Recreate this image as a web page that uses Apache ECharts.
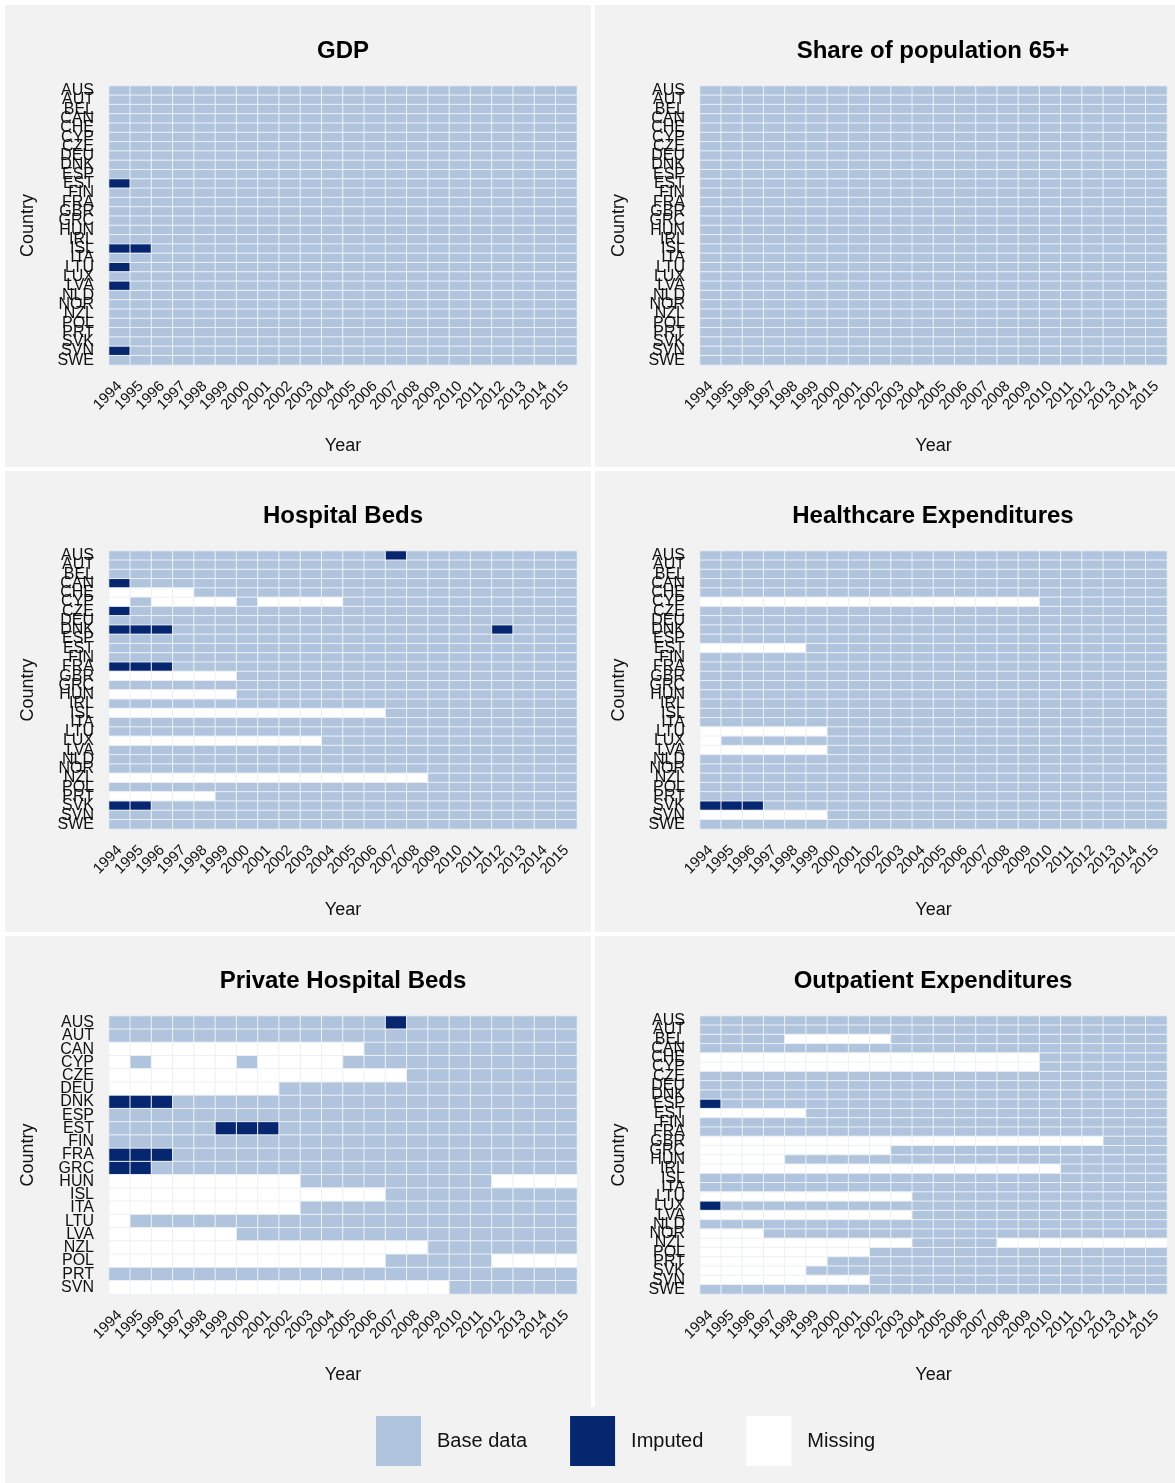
<!DOCTYPE html>
<html>
<head>
<meta charset="utf-8">
<title>Data availability by indicator</title>
<script src="https://cdn.jsdelivr.net/npm/echarts@6/dist/echarts.min.js"></script>
<style>
  html, body { margin: 0; padding: 0; background: #ffffff; }
  #chart { width: 1175px; height: 1483px; }
</style>
</head>
<body>
<div id="chart"></div>
<script>
const years = ['1994', '1995', '1996', '1997', '1998', '1999', '2000', '2001', '2002', '2003', '2004',
               '2005', '2006', '2007', '2008', '2009', '2010', '2011', '2012', '2013', '2014', '2015'];

const countries = ['AUS', 'AUT', 'BEL', 'CAN', 'CHE', 'CYP', 'CZE', 'DEU', 'DNK', 'ESP',
                   'EST', 'FIN', 'FRA', 'GBR', 'GRC', 'HUN', 'IRL', 'ISL', 'ITA', 'LTU',
                   'LUX', 'LVA', 'NLD', 'NOR', 'NZL', 'POL', 'PRT', 'SVK', 'SVN', 'SWE'];

const privateCountries = ['AUS', 'AUT', 'CAN', 'CYP', 'CZE', 'DEU', 'DNK', 'ESP', 'EST', 'FIN', 'FRA',
                          'GRC', 'HUN', 'ISL', 'ITA', 'LTU', 'LVA', 'NZL', 'POL', 'PRT', 'SVN'];

// one character per year: B = base data, I = imputed, M = missing
const gdpStatus = [
  'BBBBBBBBBBBBBBBBBBBBBB', // AUS
  'BBBBBBBBBBBBBBBBBBBBBB', // AUT
  'BBBBBBBBBBBBBBBBBBBBBB', // BEL
  'BBBBBBBBBBBBBBBBBBBBBB', // CAN
  'BBBBBBBBBBBBBBBBBBBBBB', // CHE
  'BBBBBBBBBBBBBBBBBBBBBB', // CYP
  'BBBBBBBBBBBBBBBBBBBBBB', // CZE
  'BBBBBBBBBBBBBBBBBBBBBB', // DEU
  'BBBBBBBBBBBBBBBBBBBBBB', // DNK
  'BBBBBBBBBBBBBBBBBBBBBB', // ESP
  'IBBBBBBBBBBBBBBBBBBBBB', // EST
  'BBBBBBBBBBBBBBBBBBBBBB', // FIN
  'BBBBBBBBBBBBBBBBBBBBBB', // FRA
  'BBBBBBBBBBBBBBBBBBBBBB', // GBR
  'BBBBBBBBBBBBBBBBBBBBBB', // GRC
  'BBBBBBBBBBBBBBBBBBBBBB', // HUN
  'BBBBBBBBBBBBBBBBBBBBBB', // IRL
  'IIBBBBBBBBBBBBBBBBBBBB', // ISL
  'BBBBBBBBBBBBBBBBBBBBBB', // ITA
  'IBBBBBBBBBBBBBBBBBBBBB', // LTU
  'BBBBBBBBBBBBBBBBBBBBBB', // LUX
  'IBBBBBBBBBBBBBBBBBBBBB', // LVA
  'BBBBBBBBBBBBBBBBBBBBBB', // NLD
  'BBBBBBBBBBBBBBBBBBBBBB', // NOR
  'BBBBBBBBBBBBBBBBBBBBBB', // NZL
  'BBBBBBBBBBBBBBBBBBBBBB', // POL
  'BBBBBBBBBBBBBBBBBBBBBB', // PRT
  'BBBBBBBBBBBBBBBBBBBBBB', // SVK
  'IBBBBBBBBBBBBBBBBBBBBB', // SVN
  'BBBBBBBBBBBBBBBBBBBBBB'  // SWE
];

const pop65Status = [
  'BBBBBBBBBBBBBBBBBBBBBB', // AUS
  'BBBBBBBBBBBBBBBBBBBBBB', // AUT
  'BBBBBBBBBBBBBBBBBBBBBB', // BEL
  'BBBBBBBBBBBBBBBBBBBBBB', // CAN
  'BBBBBBBBBBBBBBBBBBBBBB', // CHE
  'BBBBBBBBBBBBBBBBBBBBBB', // CYP
  'BBBBBBBBBBBBBBBBBBBBBB', // CZE
  'BBBBBBBBBBBBBBBBBBBBBB', // DEU
  'BBBBBBBBBBBBBBBBBBBBBB', // DNK
  'BBBBBBBBBBBBBBBBBBBBBB', // ESP
  'BBBBBBBBBBBBBBBBBBBBBB', // EST
  'BBBBBBBBBBBBBBBBBBBBBB', // FIN
  'BBBBBBBBBBBBBBBBBBBBBB', // FRA
  'BBBBBBBBBBBBBBBBBBBBBB', // GBR
  'BBBBBBBBBBBBBBBBBBBBBB', // GRC
  'BBBBBBBBBBBBBBBBBBBBBB', // HUN
  'BBBBBBBBBBBBBBBBBBBBBB', // IRL
  'BBBBBBBBBBBBBBBBBBBBBB', // ISL
  'BBBBBBBBBBBBBBBBBBBBBB', // ITA
  'BBBBBBBBBBBBBBBBBBBBBB', // LTU
  'BBBBBBBBBBBBBBBBBBBBBB', // LUX
  'BBBBBBBBBBBBBBBBBBBBBB', // LVA
  'BBBBBBBBBBBBBBBBBBBBBB', // NLD
  'BBBBBBBBBBBBBBBBBBBBBB', // NOR
  'BBBBBBBBBBBBBBBBBBBBBB', // NZL
  'BBBBBBBBBBBBBBBBBBBBBB', // POL
  'BBBBBBBBBBBBBBBBBBBBBB', // PRT
  'BBBBBBBBBBBBBBBBBBBBBB', // SVK
  'BBBBBBBBBBBBBBBBBBBBBB', // SVN
  'BBBBBBBBBBBBBBBBBBBBBB'  // SWE
];

const hospBedsStatus = [
  'BBBBBBBBBBBBBIBBBBBBBB', // AUS
  'BBBBBBBBBBBBBBBBBBBBBB', // AUT
  'BBBBBBBBBBBBBBBBBBBBBB', // BEL
  'IBBBBBBBBBBBBBBBBBBBBB', // CAN
  'MMMMBBBBBBBBBBBBBBBBBB', // CHE
  'MBMMMMBMMMMBBBBBBBBBBB', // CYP
  'IBBBBBBBBBBBBBBBBBBBBB', // CZE
  'BBBBBBBBBBBBBBBBBBBBBB', // DEU
  'IIIBBBBBBBBBBBBBBBIBBB', // DNK
  'BBBBBBBBBBBBBBBBBBBBBB', // ESP
  'BBBBBBBBBBBBBBBBBBBBBB', // EST
  'BBBBBBBBBBBBBBBBBBBBBB', // FIN
  'IIIBBBBBBBBBBBBBBBBBBB', // FRA
  'MMMMMMBBBBBBBBBBBBBBBB', // GBR
  'BBBBBBBBBBBBBBBBBBBBBB', // GRC
  'MMMMMMBBBBBBBBBBBBBBBB', // HUN
  'BBBBBBBBBBBBBBBBBBBBBB', // IRL
  'MMMMMMMMMMMMMBBBBBBBBB', // ISL
  'BBBBBBBBBBBBBBBBBBBBBB', // ITA
  'BBBBBBBBBBBBBBBBBBBBBB', // LTU
  'MMMMMMMMMMBBBBBBBBBBBB', // LUX
  'BBBBBBBBBBBBBBBBBBBBBB', // LVA
  'BBBBBBBBBBBBBBBBBBBBBB', // NLD
  'BBBBBBBBBBBBBBBBBBBBBB', // NOR
  'MMMMMMMMMMMMMMMBBBBBBB', // NZL
  'BBBBBBBBBBBBBBBBBBBBBB', // POL
  'MMMMMBBBBBBBBBBBBBBBBB', // PRT
  'IIBBBBBBBBBBBBBBBBBBBB', // SVK
  'BBBBBBBBBBBBBBBBBBBBBB', // SVN
  'BBBBBBBBBBBBBBBBBBBBBB'  // SWE
];

const healthExpStatus = [
  'BBBBBBBBBBBBBBBBBBBBBB', // AUS
  'BBBBBBBBBBBBBBBBBBBBBB', // AUT
  'BBBBBBBBBBBBBBBBBBBBBB', // BEL
  'BBBBBBBBBBBBBBBBBBBBBB', // CAN
  'BBBBBBBBBBBBBBBBBBBBBB', // CHE
  'MMMMMMMMMMMMMMMMBBBBBB', // CYP
  'BBBBBBBBBBBBBBBBBBBBBB', // CZE
  'BBBBBBBBBBBBBBBBBBBBBB', // DEU
  'BBBBBBBBBBBBBBBBBBBBBB', // DNK
  'BBBBBBBBBBBBBBBBBBBBBB', // ESP
  'MMMMMBBBBBBBBBBBBBBBBB', // EST
  'BBBBBBBBBBBBBBBBBBBBBB', // FIN
  'BBBBBBBBBBBBBBBBBBBBBB', // FRA
  'BBBBBBBBBBBBBBBBBBBBBB', // GBR
  'BBBBBBBBBBBBBBBBBBBBBB', // GRC
  'BBBBBBBBBBBBBBBBBBBBBB', // HUN
  'BBBBBBBBBBBBBBBBBBBBBB', // IRL
  'BBBBBBBBBBBBBBBBBBBBBB', // ISL
  'BBBBBBBBBBBBBBBBBBBBBB', // ITA
  'MMMMMMBBBBBBBBBBBBBBBB', // LTU
  'MBBBBBBBBBBBBBBBBBBBBB', // LUX
  'MMMMMMBBBBBBBBBBBBBBBB', // LVA
  'BBBBBBBBBBBBBBBBBBBBBB', // NLD
  'BBBBBBBBBBBBBBBBBBBBBB', // NOR
  'BBBBBBBBBBBBBBBBBBBBBB', // NZL
  'BBBBBBBBBBBBBBBBBBBBBB', // POL
  'BBBBBBBBBBBBBBBBBBBBBB', // PRT
  'IIIBBBBBBBBBBBBBBBBBBB', // SVK
  'MMMMMMBBBBBBBBBBBBBBBB', // SVN
  'BBBBBBBBBBBBBBBBBBBBBB'  // SWE
];

const privBedsStatus = [
  'BBBBBBBBBBBBBIBBBBBBBB', // AUS
  'BBBBBBBBBBBBBBBBBBBBBB', // AUT
  'MMMMMMMMMMMMBBBBBBBBBB', // CAN
  'MBMMMMBMMMMBBBBBBBBBBB', // CYP
  'MMMMMMMMMMMMMMBBBBBBBB', // CZE
  'MMMMMMMMBBBBBBBBBBBBBB', // DEU
  'IIIBBBBBBBBBBBBBBBBBBB', // DNK
  'BBBBBBBBBBBBBBBBBBBBBB', // ESP
  'BBBBBIIIBBBBBBBBBBBBBB', // EST
  'BBBBBBBBBBBBBBBBBBBBBB', // FIN
  'IIIBBBBBBBBBBBBBBBBBBB', // FRA
  'IIBBBBBBBBBBBBBBBBBBBB', // GRC
  'MMMMMMMMMBBBBBBBBBMMMM', // HUN
  'MMMMMMMMMMMMMBBBBBBBBB', // ISL
  'MMMMMMMMMBBBBBBBBBBBBB', // ITA
  'MBBBBBBBBBBBBBBBBBBBBB', // LTU
  'MMMMMMBBBBBBBBBBBBBBBB', // LVA
  'MMMMMMMMMMMMMMMBBBBBBB', // NZL
  'MMMMMMMMMMMMMBBBBBMMMM', // POL
  'BBBBBBBBBBBBBBBBBBBBBB', // PRT
  'MMMMMMMMMMMMMMMMBBBBBB'  // SVN
];

const outpatientStatus = [
  'BBBBBBBBBBBBBBBBBBBBBB', // AUS
  'BBBBBBBBBBBBBBBBBBBBBB', // AUT
  'BBBBMMMMMBBBBBBBBBBBBB', // BEL
  'BBBBBBBBBBBBBBBBBBBBBB', // CAN
  'MMMMMMMMMMMMMMMMBBBBBB', // CHE
  'MMMMMMMMMMMMMMMMBBBBBB', // CYP
  'BBBBBBBBBBBBBBBBBBBBBB', // CZE
  'BBBBBBBBBBBBBBBBBBBBBB', // DEU
  'BBBBBBBBBBBBBBBBBBBBBB', // DNK
  'IBBBBBBBBBBBBBBBBBBBBB', // ESP
  'MMMMMBBBBBBBBBBBBBBBBB', // EST
  'BBBBBBBBBBBBBBBBBBBBBB', // FIN
  'BBBBBBBBBBBBBBBBBBBBBB', // FRA
  'MMMMMMMMMMMMMMMMMMMBBB', // GBR
  'MMMMMMMMMBBBBBBBBBBBBB', // GRC
  'MMMMBBBBBBBBBBBBBBBBBB', // HUN
  'MMMMMMMMMMMMMMMMMBBBBB', // IRL
  'BBBBBBBBBBBBBBBBBBBBBB', // ISL
  'BBBBBBBBBBBBBBBBBBBBBB', // ITA
  'MMMMMMMMMMBBBBBBBBBBBB', // LTU
  'IBBBBBBBBBBBBBBBBBBBBB', // LUX
  'MMMMMMMMMMBBBBBBBBBBBB', // LVA
  'BBBBBBBBBBBBBBBBBBBBBB', // NLD
  'MMMBBBBBBBBBBBBBBBBBBB', // NOR
  'MMMMMMMMMMBBBBMMMMMMMM', // NZL
  'MMMMMMMMBBBBBBBBBBBBBB', // POL
  'MMMMMMBBBBBBBBBBBBBBBB', // PRT
  'MMMMMBBBBBBBBBBBBBBBBB', // SVK
  'MMMMMMMMBBBBBBBBBBBBBB', // SVN
  'BBBBBBBBBBBBBBBBBBBBBB'  // SWE
];

const statusCodes = { B: 0, I: 1, M: 2 };
const statusLabels = ['Base data', 'Imputed', 'Missing'];
const statusColors = ['#B0C4DE', '#06276F', '#FFFFFF'];

const panels = [
  { title: 'GDP', rows: countries, status: gdpStatus },
  { title: 'Share of population 65+', rows: countries, status: pop65Status },
  { title: 'Hospital Beds', rows: countries, status: hospBedsStatus },
  { title: 'Healthcare Expenditures', rows: countries, status: healthExpStatus },
  { title: 'Private Hospital Beds', rows: privateCountries, status: privBedsStatus },
  { title: 'Outpatient Expenditures', rows: countries, status: outpatientStatus }
];

// page layout (pixels)
const colLeft = [109, 700];
const colWidth = [468, 467];
const colCenter = [343, 933];
const rowTop = [86, 551, 1016];
const rowHeight = [279, 278, 278];
const titleY = [51, 516, 981];
const panelBoxes = [
  [5, 5, 586, 462], [595, 5, 580, 462],
  [5, 471, 586, 461], [595, 471, 580, 461],
  [5, 936, 586, 471], [595, 936, 580, 471],
  [5, 1407, 1170, 76]
];

const font = "'Liberation Sans', Arial, sans-serif";

function toCells(panel) {
  if (panel.status.length !== panel.rows.length) {
    throw new Error(panel.title + ': ' + panel.status.length + ' rows for ' + panel.rows.length + ' countries');
  }
  const cells = [];
  panel.status.forEach((line, r) => {
    if (line.length !== years.length) {
      throw new Error(panel.title + ' ' + panel.rows[r] + ': ' + line.length + ' years');
    }
    for (let c = 0; c < line.length; c++) {
      cells.push([c, r, statusCodes[line[c]]]);
    }
  });
  return cells;
}

const grids = [], xAxes = [], yAxes = [], series = [], graphics = [];

panelBoxes.forEach(b => {
  graphics.push({
    type: 'rect', z: -1, silent: true,
    shape: { x: b[0], y: b[1], width: b[2], height: b[3] },
    style: { fill: '#F2F2F2' }
  });
});

panels.forEach((p, i) => {
  const col = i % 2, row = Math.floor(i / 2);
  grids.push({ left: colLeft[col], top: rowTop[row], width: colWidth[col], height: rowHeight[row] });
  xAxes.push({
    type: 'category', gridIndex: i, data: years,
    name: 'Year', nameLocation: 'middle', nameGap: 72,
    nameTextStyle: { fontFamily: font, fontSize: 18, color: '#111' },
    axisLine: { show: false }, axisTick: { show: false },
    splitLine: { show: false }, splitArea: { show: false },
    axisLabel: { interval: 0, rotate: 45, margin: 19, fontFamily: font, fontSize: 15, color: '#111' }
  });
  yAxes.push({
    type: 'category', gridIndex: i, data: p.rows, inverse: true,
    name: 'Country', nameLocation: 'middle', nameGap: 72,
    nameTextStyle: { fontFamily: font, fontSize: 18, color: '#111' },
    axisLine: { show: false }, axisTick: { show: false },
    splitLine: { show: false }, splitArea: { show: false },
    axisLabel: { interval: 0, margin: 15, fontFamily: font, fontSize: 16, color: '#111' }
  });
  series.push({
    type: 'heatmap', name: p.title, xAxisIndex: i, yAxisIndex: i,
    data: toCells(p),
    itemStyle: { borderColor: '#EDF0F4', borderWidth: 1 },
    emphasis: { disabled: true }
  });
  graphics.push({
    type: 'text', x: colCenter[col], y: titleY[row], silent: true,
    style: {
      text: p.title, fill: '#000', textAlign: 'center', textVerticalAlign: 'middle',
      font: 'bold 24px ' + font
    }
  });
});

const chart = echarts.init(document.getElementById('chart'));
chart.setOption({
  backgroundColor: '#ffffff',
  animation: false,
  grid: grids,
  xAxis: xAxes,
  yAxis: yAxes,
  visualMap: {
    type: 'piecewise',
    seriesIndex: series.map((s, i) => i),
    dimension: 2,
    orient: 'horizontal',
    left: 376, top: 1416,
    padding: 0,
    itemWidth: 45, itemHeight: 50,
    itemGap: 43, textGap: 16,
    itemSymbol: 'rect',
    selectedMode: false,
    textStyle: { fontFamily: font, fontSize: 20, color: '#111' },
    pieces: statusLabels.map((label, k) => ({ value: k, label: label, color: statusColors[k] }))
  },
  graphic: { elements: graphics },
  series: series
});
</script>
</body>
</html>
